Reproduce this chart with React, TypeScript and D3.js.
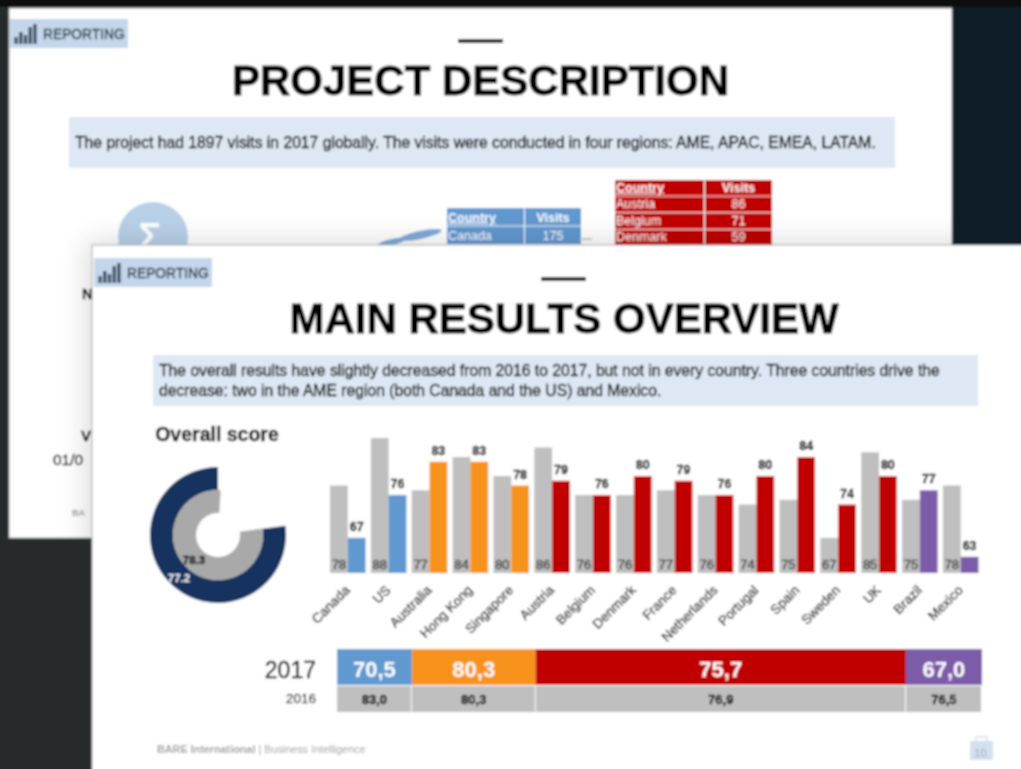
import React from "react";
import * as d3 from "d3";

const categories = ["Canada","US","Australia","Hong Kong","Singapore","Austria","Belgium","Denmark","France","Netherlands","Portugal","Spain","Sweden","UK","Brazil","Mexico"];
const score2016 = [78,88,77,84,80,86,76,76,77,76,74,75,67,85,75,78];
const score2017 = [67,76,83,83,78,79,76,80,79,76,80,84,74,80,77,63];
const categoryRegion = [0,0,1,1,1,2,2,2,2,2,2,2,2,2,3,3];
const regionShare = [11.6,19.2,57.4,11.8];
const region2017 = ["70,5","80,3","75,7","67,0"];
const region2016 = ["83,0","80,3","76,9","76,5"];
const regionColors = ["#6198d0","#f7931e","#c00000","#7b5ca8"];
const donutValues = [77.2,78.3];
const blueTable = [["Country","Visits"],["Canada","175"]];
const redTable = [["Country","Visits"],["Austria","86"],["Belgium","71"],["Denmark","59"]];
const iconBars = [0.35,0.6,0.45,0.85,1];
const SANS = "'Liberation Sans', Arial, sans-serif";

const x = d3.scaleBand<string>().domain(categories).range([330,978.5]).paddingInner(0.13).paddingOuter(0);
const y = d3.scaleLinear().domain([59.6,88]).range([573,438]);
const cum = d3.cumsum(regionShare);
const rx = d3.scaleLinear().domain([0,100]).range([337,982]);

function Badge({ bx, by }: { bx: number; by: number }) {
  const ix = d3.scaleBand<number>().domain(d3.range(iconBars.length)).range([bx + 3, bx + 28]).padding(0.3);
  const ih = d3.scaleLinear().domain([0,1]).range([0,20]);
  return (
    <g>
      <rect x={bx} y={by} width={118} height={29} fill="#c3d6ec" />
      {iconBars.map((b, i) => (
        <rect key={i} x={ix(i)} y={by + 25 - ih(b)} width={ix.bandwidth()} height={ih(b)} fill="#34485a" />
      ))}
      <text x={bx + 33} y={by + 20} fontSize={13.8} fill="#1c2a38" stroke="#1c2a38" strokeWidth={0.35} fontFamily={SANS}>REPORTING</text>
    </g>
  );
}

function Table({ rows, tx, ty, colX, w, rowH, fill }: any) {
  return (
    <g fontFamily={SANS} fontSize={12.5} fill="#fff">
      {rows.map((r: string[], i: number) => (
        <g key={i}>
          <rect x={tx} y={ty + i * rowH} width={colX - 1} height={rowH - 1} fill={fill} />
          <rect x={tx + colX} y={ty + i * rowH} width={w - colX} height={rowH - 1} fill={fill} />
          <text x={tx + 1} y={ty + i * rowH + rowH - 5} fontWeight={i === 0 ? 700 : 400} textDecoration={i === 0 ? "underline" : "none"}>{r[0]}</text>
          <text x={tx + colX + (w - colX) / 2} y={ty + i * rowH + rowH - 5} textAnchor="middle" fontWeight={i === 0 ? 700 : 400}>{r[1]}</text>
        </g>
      ))}
    </g>
  );
}

export default function App() {
  const arc = d3.arc();
  const TAU = Math.PI * 2;
  const rings = [
    { v: donutValues[0], inner: 45, outer: 68, fill: "#17325f", off: 0 },
    { v: donutValues[1], inner: 22, outer: 45, fill: "#a9a9a9", off: 0.06 },
  ];
  const titleStyle = { fontSize: 42, fontWeight: 700, fill: "#000", stroke: "#000", strokeWidth: 0.8, fontFamily: SANS };
  const inkStyle = { fill: "#000", stroke: "#000", strokeWidth: 0.35, fontFamily: SANS };
  const grayInk = { fill: "#2a2a2a", stroke: "#2a2a2a", strokeWidth: 0.3 };
  return (
    <svg width={1021} height={769} style={{ position: "absolute", left: 0, top: 0, display: "block" }}>
      <defs>
        <filter id="soft" x="-2%" y="-2%" width="104%" height="104%"><feGaussianBlur stdDeviation={0.85} /></filter>
        <filter id="shade" x="-10%" y="-10%" width="120%" height="120%"><feGaussianBlur stdDeviation={14} /></filter>
        <clipPath id="backClip"><rect x={9} y={8} width={943} height={530} /></clipPath>
      </defs>
      <g filter="url(#soft)">
        <rect x={-10} y={-10} width={1041} height={789} fill="#262c2c" />
        <rect x={-10} y={-10} width={1041} height={17} fill="#100e0a" />
        <rect x={952} y={7} width={79} height={240} fill="#0f1e26" />

        {/* back slide */}
        <rect x={9} y={8} width={943} height={530} fill="#fff" stroke="#9a9a9a" strokeWidth={1} />
        <Badge bx={10} by={19} />
        <rect x={458} y={39} width={45} height={4} fill="#000" />
        <text x={480.5} y={95} textAnchor="middle" {...titleStyle}>PROJECT DESCRIPTION</text>
        <rect x={69} y={117} width={826} height={51} fill="#dde8f4" />
        <text x={75} y={148} fontSize={15.7} {...inkStyle}>The project had 1897 visits in 2017 globally. The visits were conducted in four regions: AME, APAC, EMEA, LATAM.</text>
        <circle cx={153} cy={237} r={35} fill="#b8d0e8" />
        <text x={150} y={250} textAnchor="middle" fontSize={38} fontWeight={700} fill="#fff" fontFamily={SANS}>Σ</text>
        <ellipse cx={420} cy={235} rx={22} ry={4} fill="#7fabd8" transform="rotate(-12 420 235)" />
        <ellipse cx={392} cy={242} rx={14} ry={3} fill="#7fabd8" transform="rotate(-12 392 242)" />
        <rect x={582} y={238} width={10} height={2} fill="#c9c9c9" />
        <Table rows={blueTable} tx={447} ty={208} colX={78} w={134} rowH={18.5} fill="#6198d0" />
        <Table rows={redTable} tx={615} ty={180} colX={90} w={157} rowH={16.6} fill="#c00000" />
        <text x={82} y={299} fontSize={15} fontWeight={700} {...inkStyle}>N</text>
        <text x={81} y={441} fontSize={15} fontWeight={700} {...inkStyle}>V</text>
        <text x={53} y={465} fontSize={15.5} {...inkStyle}>01/0</text>
        <text x={72} y={516} fontSize={9} fontWeight={700} fill="#999" fontFamily={SANS}>BA</text>

        {/* soft shade cast by the front slide on the back slide */}
        <g clipPath="url(#backClip)">
          <rect x={86} y={241} width={940} height={530} fill="#000" opacity={0.14} filter="url(#shade)" />
        </g>

        {/* front slide */}
        <rect x={92} y={245} width={939} height={534} fill="#fff" stroke="#aaa" strokeWidth={1} />
        <Badge bx={94} by={258} />
        <rect x={541} y={277} width={45} height={4} fill="#000" />
        <text x={564} y={333} textAnchor="middle" {...titleStyle}>MAIN RESULTS OVERVIEW</text>
        <rect x={153} y={355} width={825} height={51} fill="#dde8f4" />
        <g fontSize={15.7} {...inkStyle}>
          <text x={159} y={376}>The overall results have slightly decreased from 2016 to 2017, but not in every country. Three countries drive the</text>
          <text x={159} y={396}>decrease: two in the AME region (both Canada and the US) and Mexico.</text>
        </g>

        {/* donut */}
        <text x={217} y={441} textAnchor="middle" fontSize={19.5} fontWeight={700} {...inkStyle}>Overall score</text>
        <g transform="translate(218,535)">
          {rings.map((r, i) => (
            <path key={i} fill={r.fill} d={arc({ innerRadius: r.inner, outerRadius: r.outer, startAngle: TAU * (1 - r.v / 100) + r.off, endAngle: TAU + r.off }) as string} />
          ))}
        </g>
        <text x={179} y={582} textAnchor="middle" fontSize={11.5} fontWeight={700} fill="#fff" fontFamily={SANS}>{donutValues[0]}</text>
        <text x={194} y={564} textAnchor="middle" fontSize={11.5} fontWeight={700} {...inkStyle}>{donutValues[1]}</text>

        {/* bars */}
        {categories.map((c, i) => {
          const x0 = x(c)!;
          const w = x.bandwidth() / 2;
          const a = score2016[i];
          const b = score2017[i];
          return (
            <g key={c} fontFamily={SANS}>
              <rect x={x0} y={y(a)} width={w} height={y(59.6) - y(a)} fill="#bfbfbf" />
              <rect x={x0 + w} y={y(b)} width={w} height={y(59.6) - y(b)} fill={regionColors[categoryRegion[i]]} />
              <text x={x0 + w / 2} y={569} textAnchor="middle" fontSize={13} {...grayInk}>{a}</text>
              <text x={x0 + w * 1.5} y={y(b) - 7} textAnchor="middle" fontSize={12.5} fontWeight={700} fill="#000" stroke="#000" strokeWidth={0.3}>{b}</text>
              <text transform={`translate(${x0 + w + 3},591) rotate(-45)`} textAnchor="end" fontSize={13.5} {...grayInk}>{c}</text>
            </g>
          );
        })}

        {/* region table */}
        <text x={316} y={678} textAnchor="end" fontSize={23} {...inkStyle}>2017</text>
        <text x={316} y={703} textAnchor="end" fontSize={13.5} fontFamily={SANS} {...grayInk}>2016</text>
        {regionShare.map((s, i) => {
          const a = rx(cum[i] - s);
          const b = rx(cum[i]);
          return (
            <g key={i} fontFamily={SANS}>
              <rect x={a} y={649} width={b - a} height={36} fill={regionColors[i]} />
              <rect x={a} y={686} width={b - a - 1} height={26} fill="#bfbfbf" />
              <text x={(a + b) / 2} y={677} textAnchor="middle" fontSize={22} fontWeight={700} fill="#fff">{region2017[i]}</text>
              <text x={(a + b) / 2} y={704} textAnchor="middle" fontSize={13} fontWeight={700} fill="#000" stroke="#000" strokeWidth={0.3}>{region2016[i]}</text>
            </g>
          );
        })}

        {/* footer */}
        <text x={157} y={753} fontSize={10.8} fill="#a0a0a0" fontFamily={SANS}><tspan fontWeight={700}>BARE International</tspan> | Business Intelligence</text>
        <rect x={970} y={741} width={23} height={19} fill="#d3e0ee" />
        <rect x={976} y={737} width={11} height={5} fill="none" stroke="#d3e0ee" strokeWidth={1.5} />
        <text x={982} y={757} textAnchor="middle" fontSize={11} fill="#9aa7b5" fontFamily={SANS}>10.</text>
      </g>
    </svg>
  );
}
